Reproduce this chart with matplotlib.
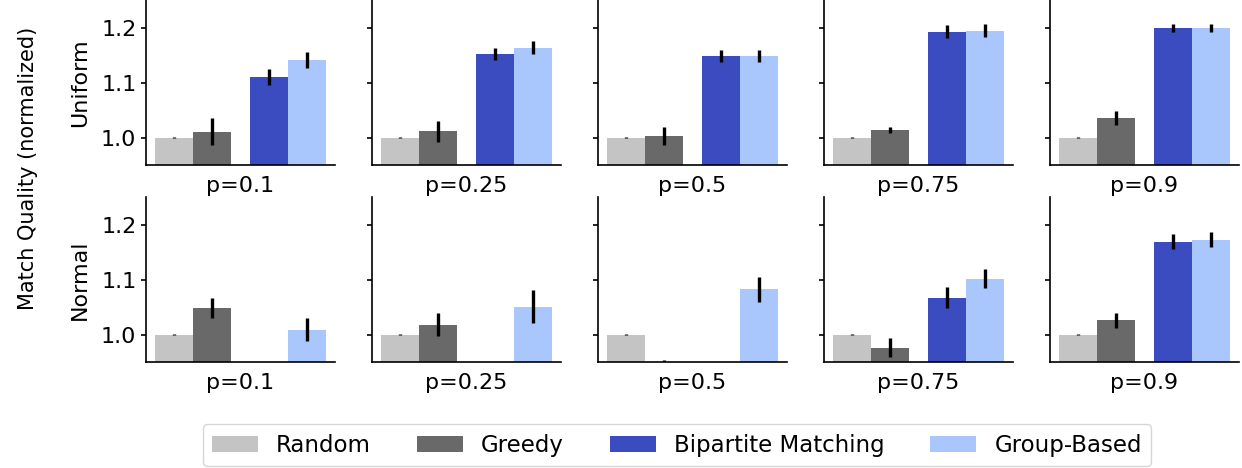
import matplotlib.pyplot as plt
import numpy as np

# valores
methods = ['Random', 'Greedy', 'Bipartite Matching', 'Group-Based']
colors = ['#c4c4c4', '#696969', '#3b4cc0', '#aac7fd']
probs = ['p=0.1', 'p=0.25', 'p=0.5', 'p=0.75', 'p=0.9']
rows = ['Uniform', 'Normal']

# media por metodo, uma lista por p
uniform_mean = [
    [1.0, 1.011, 1.111, 1.142],
    [1.0, 1.012, 1.153, 1.164],
    [1.0, 1.003, 1.149, 1.149],
    [1.0, 1.014, 1.193, 1.195],
    [1.0, 1.036, 1.200, 1.200],
]
uniform_err = [
    [0.001, 0.025, 0.014, 0.015],
    [0.001, 0.019, 0.011, 0.012],
    [0.001, 0.016, 0.011, 0.011],
    [0.001, 0.005, 0.012, 0.012],
    [0.001, 0.013, 0.008, 0.008],
]
normal_mean = [
    [1.0, 1.049, 0.90, 1.009],
    [1.0, 1.018, 0.90, 1.051],
    [1.0, 0.940, 0.90, 1.082],
    [1.0, 0.976, 1.067, 1.102],
    [1.0, 1.026, 1.169, 1.173],
]
normal_err = [
    [0.001, 0.018, 0.010, 0.021],
    [0.001, 0.021, 0.010, 0.030],
    [0.001, 0.013, 0.010, 0.023],
    [0.001, 0.017, 0.019, 0.018],
    [0.001, 0.014, 0.014, 0.014],
]

means = [uniform_mean, normal_mean]
errs = [uniform_err, normal_err]
xpos = [0, 1, 2.5, 3.5]

fig, axs = plt.subplots(2, 5, figsize=(12.42, 4.68), dpi=100, sharey=True)
fig.subplots_adjust(left=0.1176, right=0.9976, top=0.999, bottom=0.2265,
                    wspace=0.196, hspace=0.194)

handles = []
for r in range(2):
    for c in range(5):
        ax = axs[r][c]
        for k in range(4):
            b = ax.bar(xpos[k], means[r][c][k], width=1, color=colors[k],
                       label=methods[k])
            ax.errorbar(xpos[k], means[r][c][k], yerr=errs[r][c][k],
                        fmt='none', ecolor='black', elinewidth=2.4)
            if r == 0 and c == 0:
                handles.append(b)
        ax.set_xlim(-0.74, 4.24)
        ax.set_ylim(0.95, 1.25)
        ax.set_yticks([1.0, 1.1, 1.2])
        ax.set_xticks([])
        ax.spines['top'].set_visible(False)
        ax.spines['right'].set_visible(False)
        ax.spines['left'].set_linewidth(1.2)
        ax.spines['bottom'].set_linewidth(1.2)
        ax.tick_params(axis='y', labelsize=16, width=1.2)
        ax.set_xlabel(probs[c], fontsize=16, labelpad=8)
        if c == 0:
            ax.set_ylabel(rows[r], fontsize=16, labelpad=8)

fig.text(28 / 1242, 1 - 168 / 468, 'Match Quality (normalized)', rotation=90,
         ha='center', va='center', fontsize=15)

fig.legend(handles=handles, labels=methods, loc='lower center', ncol=4,
           fontsize=16.5, bbox_to_anchor=(0.545, 0.0), borderaxespad=0.1)

plt.savefig('out.png', dpi=100)
